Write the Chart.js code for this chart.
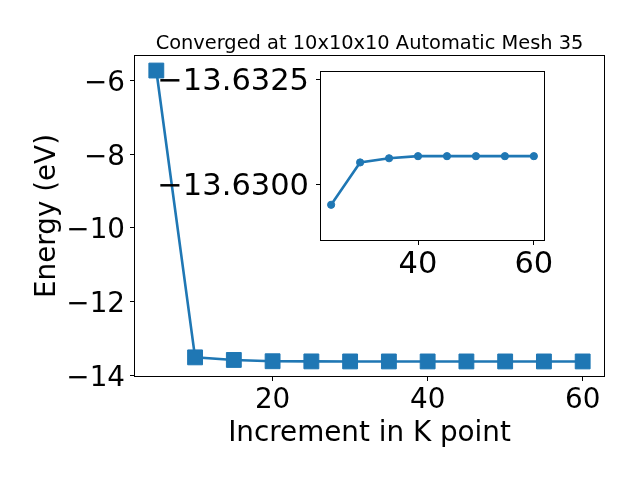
<!DOCTYPE html>
<html><head><meta charset="utf-8">
<script src="https://cdn.jsdelivr.net/npm/chart.js@4.4.0/dist/chart.umd.min.js"></script>
<style>
html,body{margin:0;padding:0;background:#fff;}
#wrap{position:relative;width:640px;height:480px;overflow:hidden;}
#main{position:absolute;left:0;top:0;}
#inset{position:absolute;left:150px;top:50px;}
</style></head><body>
<div id="wrap"><canvas id="main" width="640" height="480"></canvas><canvas id="inset" width="420" height="240"></canvas></div>
<script>
const kPoints = [5, 10, 15, 20, 25, 30, 35, 40, 45, 50, 55, 60];
const energies = [-5.73, -13.52, -13.59, -13.625, -13.6295, -13.6305, -13.6306, -13.6307, -13.6307, -13.6307, -13.6307, -13.6307];
const insetK = [25, 30, 35, 40, 45, 50, 55, 60];
const insetEnergies = [-13.62951, -13.63052, -13.63062, -13.63067, -13.63067, -13.63067, -13.63067, -13.63067];
const mainXTicks = [20, 40, 60];
const mainYTicks = [-14, -12, -10, -8, -6];
const insetXTicks = [40, 60];
const insetYTicks = [-13.6325, -13.6300];
const titleText = 'Converged at 10x10x10 Automatic Mesh 35';
const xLabel = 'Increment in K point';
const yLabel = 'Energy (eV)';

const FONT = 'DejaVu Sans';
const BLUE = '#1f77b4';
const fmt = v => (v < 0 ? '\u2212' : '') + Math.abs(v);

const boxPlugin = {
  id: 'box',
  beforeDatasetsDraw(chart, args, opts) {
    if (opts.fill) {
      const a = chart.chartArea, c = chart.ctx;
      c.save(); c.fillStyle = '#fff';
      c.fillRect(a.left, a.top, a.right - a.left, a.bottom - a.top);
      c.restore();
    }
  },
  afterDraw(chart, args, opts) {
    const a = chart.chartArea, c = chart.ctx;
    c.save();
    c.strokeStyle = '#000'; c.lineWidth = 1;
    c.strokeRect(Math.round(a.left) - 0.5, Math.round(a.top) - 0.5, Math.round(a.right - a.left) + 1, Math.round(a.bottom - a.top) + 1);
    if (opts.title) {
      c.fillStyle = '#000';
      c.font = '19.4px "' + FONT + '"';
      c.textAlign = 'center'; c.textBaseline = 'alphabetic';
      c.fillText(opts.title, (a.left + a.right) / 2, 49);
    }
    c.restore();
  }
};

const tickGrid = { display: true, drawOnChartArea: false, drawTicks: true, tickLength: 5, color: '#000', lineWidth: 1 };
const noPad = s => { s.paddingTop = 0; s.paddingBottom = 0; s.paddingLeft = 0; s.paddingRight = 0; };

new Chart(document.getElementById('main'), {
  type: 'line',
  data: { datasets: [{
    data: kPoints.map((k, i) => ({ x: k, y: energies[i] })),
    borderColor: BLUE, backgroundColor: BLUE, borderWidth: 2.6,
    pointStyle: 'rect', pointRadius: 10.5, pointBorderWidth: 1, pointBorderColor: BLUE, pointBackgroundColor: BLUE,
    tension: 0
  }] },
  plugins: [boxPlugin],
  options: {
    responsive: false, devicePixelRatio: 1, animation: false,
    layout: { padding: { top: 56, right: 36, left: 0, bottom: 0 } },
    plugins: { legend: { display: false }, tooltip: { enabled: false }, box: { title: titleText } },
    scales: {
      x: {
        type: 'linear', min: 2.25, max: 62.75,
        afterBuildTicks: s => { s.ticks = mainXTicks.map(v => ({ value: v })); },
        afterFit: s => { s.height = 104; },
        grid: tickGrid, border: { display: false },
        ticks: { color: '#000', font: { family: FONT, size: 27.8 }, padding: 3, maxRotation: 0, callback: v => fmt(v) },
        title: { display: true, text: xLabel, color: '#000', font: { family: FONT, size: 27.8 }, padding: { top: 0, bottom: 30 } }
      },
      y: {
        type: 'linear', min: -14.026, max: -5.335,
        afterBuildTicks: s => { s.ticks = mainYTicks.map(v => ({ value: v })); },
        afterFit: s => { s.width = 135; },
        grid: tickGrid, border: { display: false },
        ticks: { color: '#000', font: { family: FONT, size: 27.8 }, padding: 5, labelOffset: 3.3, callback: v => fmt(v) },
        title: { display: true, text: yLabel, color: '#000', font: { family: FONT, size: 27.8 }, padding: { top: 31, bottom: 0 } }
      }
    }
  }
});

new Chart(document.getElementById('inset'), {
  type: 'line',
  data: { datasets: [{
    data: insetK.map((k, i) => ({ x: k, y: insetEnergies[i] })),
    borderColor: BLUE, backgroundColor: BLUE, borderWidth: 2.6,
    pointStyle: 'circle', pointRadius: 3.6, pointBorderWidth: 1, pointBorderColor: BLUE, pointBackgroundColor: BLUE,
    tension: 0
  }] },
  plugins: [boxPlugin],
  options: {
    responsive: false, devicePixelRatio: 1, animation: false,
    layout: { padding: { top: 22.3, right: 26, left: 0, bottom: 0 } },
    plugins: { legend: { display: false }, tooltip: { enabled: false }, box: { fill: true } },
    scales: {
      x: {
        type: 'linear', min: 23.25, max: 61.75,
        afterBuildTicks: s => { s.ticks = insetXTicks.map(v => ({ value: v })); },
        afterFit: s => { s.height = 50; noPad(s); },
        grid: tickGrid, border: { display: false },
        ticks: { color: '#000', font: { family: FONT, size: 30.5 }, padding: 2, maxRotation: 0, callback: v => fmt(v) },
        title: { display: false }
      },
      y: {
        type: 'linear', reverse: true, min: -13.63267, max: -13.62867,
        afterBuildTicks: s => { s.ticks = insetYTicks.map(v => ({ value: v })); },
        afterFit: s => { s.width = 171; noPad(s); },
        grid: tickGrid, border: { display: false },
        ticks: { color: '#000', font: { family: FONT, size: 30.5 }, padding: 7, labelOffset: 3.1, callback: v => '\u2212' + Math.abs(v).toFixed(4) },
        title: { display: false }
      }
    }
  }
});
</script>
</body></html>
